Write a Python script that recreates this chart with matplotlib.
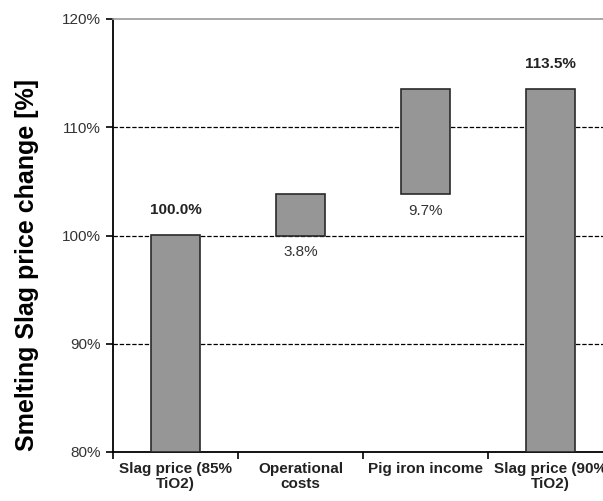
import numpy as np
import matplotlib
matplotlib.use("Agg")
import matplotlib.pyplot as plt

plt.rcParams["font.family"] = ["Liberation Sans", "DejaVu Sans"]

categories = ["Slag price (85%\nTiO2)", "Operational\ncosts",
              "Pig iron income", "Slag price (90%\nTiO2)"]
start_value = 100.0
steps = [3.8, 9.7]
end_value = 113.5
axis_floor = 80.0
yticks = [80, 90, 100, 110, 120]

# waterfall geometry from the values
levels = np.cumsum([start_value] + steps)
bottoms = [axis_floor] + list(levels[:-1]) + [axis_floor]
tops = [start_value] + list(levels[1:]) + [end_value]
heights = np.array(tops) - np.array(bottoms)
labels = ["%.1f%%" % start_value] + ["%.1f%%" % s for s in steps] + ["%.1f%%" % end_value]

fig = plt.figure(figsize=(6.03, 5.01), dpi=100)
ax = fig.add_axes([113/603, 1 - 452/501, 500/603, (452 - 19)/501])

x = np.arange(len(categories))
ax.bar(x, heights, bottom=bottoms, width=0.39, color="#969696",
       edgecolor="#2a2a2a", linewidth=1.2, zorder=3)

for yv in [90, 100, 110]:
    ax.axhline(yv, color="black", linestyle=(0, (3.5, 1.5)), linewidth=0.9, zorder=2)

for i, lab in enumerate(labels):
    if i == 0 or i == len(labels) - 1:
        ax.annotate(lab, (x[i], tops[i]), xytext=(0, 18.5), textcoords="offset points",
                    ha="center", va="center", fontsize=11, fontweight="bold", color="#222222")
    else:
        ax.annotate(lab, (x[i], bottoms[i]), xytext=(0, -12), textcoords="offset points",
                    ha="center", va="center", fontsize=11, color="#333333")

ax.set_xlim(-0.5, 3.5)
ax.set_ylim(axis_floor, 120)
ax.set_yticks(yticks)
ax.set_yticklabels(["%d%%" % t for t in yticks], fontsize=11, color="#333333")

ax.set_xticks(np.arange(-0.5, 3.5, 1.0))
ax.set_xticklabels([])
ax.set_xticks(x, minor=True)
ax.set_xticklabels(categories, minor=True, fontsize=11, fontweight="bold",
                   color="#222222", linespacing=1.1)
ax.tick_params(axis="x", which="minor", length=0, pad=7)
ax.tick_params(axis="x", which="major", length=5, width=1.2, direction="out")
ax.tick_params(axis="y", length=5, width=1.2, direction="out", pad=4)

ax.spines["left"].set_linewidth(1.3)
ax.spines["bottom"].set_linewidth(1.3)
ax.spines["top"].set_color("#999999")
ax.spines["top"].set_linewidth(1.2)
ax.spines["right"].set_visible(False)

ax.set_ylabel("Smelting Slag price change [%]", fontsize=18, fontweight="bold")
ax.yaxis.set_label_coords(-0.148, 0.432)

fig.savefig("out.png", dpi=100)
